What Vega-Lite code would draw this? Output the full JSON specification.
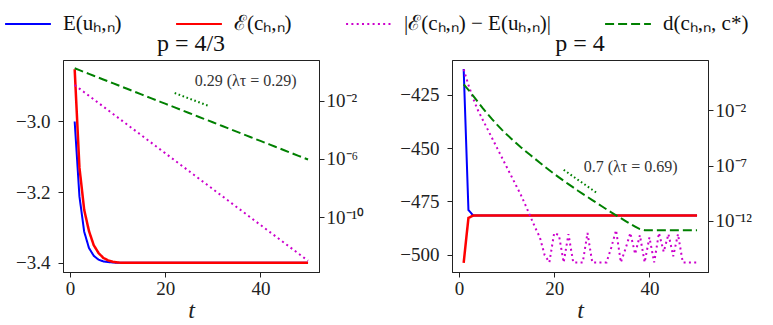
{
  "$schema": "https://vega.github.io/schema/vega-lite/v6.json",
  "padding": {"left": 4, "top": 0, "right": 2, "bottom": 2},
  "background": "white",
  "config": {
    "font": "Liberation Serif",
    "view": {"stroke": "#222", "strokeWidth": 1},
    "axis": {"grid": false, "domainColor": "#222", "tickColor": "#222", "labelColor": "#222", "labelFontSize": 19, "labelFont": "Liberation Serif", "tickSize": 5, "titleFont": "Liberation Serif", "titleFontWeight": "normal", "titleFontSize": 24, "titleFontStyle": "italic", "titleColor": "#222", "labelFlush": false},
    "legend": {"direction": "horizontal", "symbolType": "stroke", "symbolSize": 2100, "symbolStrokeWidth": 2, "labelFont": "Liberation Serif", "labelFontSize": 21, "labelColor": "#111", "columnPadding": 50, "labelOffset": 11, "padding": 0, "labelLimit": 400},
    "title": {"font": "Liberation Serif", "fontSize": 24, "fontWeight": "normal", "color": "#111", "offset": 4}
  },
  "datasets": {
    "p43": [
      {"t": 1, "E1": -3.0, "E2": -2.852, "diff": 0.1202, "dist": 1.698},
      {"t": 2, "E1": -3.212, "E2": -3.13, "diff": 0.06817, "dist": 1.265},
      {"t": 3, "E1": -3.312, "E2": -3.25, "diff": 0.03864, "dist": 0.9419},
      {"t": 4, "E1": -3.358, "E2": -3.31, "diff": 0.0219, "dist": 0.7015},
      {"t": 5, "E1": -3.38, "E2": -3.35, "diff": 0.01242, "dist": 0.5224},
      {"t": 6, "E1": -3.391, "E2": -3.372, "diff": 0.007039, "dist": 0.389},
      {"t": 7, "E1": -3.396, "E2": -3.386, "diff": 0.00399, "dist": 0.2897},
      {"t": 8, "E1": -3.398, "E2": -3.393, "diff": 0.002262, "dist": 0.2158},
      {"t": 9, "E1": -3.399, "E2": -3.397, "diff": 0.001282, "dist": 0.1607},
      {"t": 10, "E1": -3.4, "E2": -3.399, "diff": 7.27e-4, "dist": 0.1197},
      {"t": 11, "E1": -3.4, "E2": -3.4, "diff": 4.12e-4, "dist": 0.08913},
      {"t": 12, "E1": -3.4, "E2": -3.4, "diff": 2.336e-4, "dist": 0.06637},
      {"t": 13, "E1": -3.4, "E2": -3.4, "diff": 1.324e-4, "dist": 0.04943},
      {"t": 14, "E1": -3.4, "E2": -3.4, "diff": 7.51e-5, "dist": 0.03681},
      {"t": 15, "E1": -3.4, "E2": -3.4, "diff": 4.26e-5, "dist": 0.02742},
      {"t": 16, "E1": -3.4, "E2": -3.4, "diff": 2.413e-5, "dist": 0.02042},
      {"t": 17, "E1": -3.4, "E2": -3.4, "diff": 1.368e-5, "dist": 0.01521},
      {"t": 18, "E1": -3.4, "E2": -3.4, "diff": 7.75e-6, "dist": 0.01132},
      {"t": 19, "E1": -3.4, "E2": -3.4, "diff": 4.4e-6, "dist": 0.008433},
      {"t": 20, "E1": -3.4, "E2": -3.4, "diff": 2.492e-6, "dist": 0.006281},
      {"t": 21, "E1": -3.4, "E2": -3.4, "diff": 1.413e-6, "dist": 0.004677},
      {"t": 22, "E1": -3.4, "E2": -3.4, "diff": 8.01e-7, "dist": 0.003483},
      {"t": 23, "E1": -3.4, "E2": -3.4, "diff": 4.54e-7, "dist": 0.002594},
      {"t": 24, "E1": -3.4, "E2": -3.4, "diff": 2.573e-7, "dist": 0.001932},
      {"t": 25, "E1": -3.4, "E2": -3.4, "diff": 1.459e-7, "dist": 0.001439},
      {"t": 26, "E1": -3.4, "E2": -3.4, "diff": 8.27e-8, "dist": 0.001072},
      {"t": 27, "E1": -3.4, "E2": -3.4, "diff": 4.69e-8, "dist": 7.98e-4},
      {"t": 28, "E1": -3.4, "E2": -3.4, "diff": 2.657e-8, "dist": 5.94e-4},
      {"t": 29, "E1": -3.4, "E2": -3.4, "diff": 1.507e-8, "dist": 4.43e-4},
      {"t": 30, "E1": -3.4, "E2": -3.4, "diff": 8.54e-9, "dist": 3.3e-4},
      {"t": 31, "E1": -3.4, "E2": -3.4, "diff": 4.84e-9, "dist": 2.455e-4},
      {"t": 32, "E1": -3.4, "E2": -3.4, "diff": 2.745e-9, "dist": 1.828e-4},
      {"t": 33, "E1": -3.4, "E2": -3.4, "diff": 1.556e-9, "dist": 1.361e-4},
      {"t": 34, "E1": -3.4, "E2": -3.4, "diff": 8.82e-10, "dist": 1.014e-4},
      {"t": 35, "E1": -3.4, "E2": -3.4, "diff": 5.0e-10, "dist": 7.55e-5},
      {"t": 36, "E1": -3.4, "E2": -3.4, "diff": 2.835e-10, "dist": 5.62e-5},
      {"t": 37, "E1": -3.4, "E2": -3.4, "diff": 1.607e-10, "dist": 4.19e-5},
      {"t": 38, "E1": -3.4, "E2": -3.4, "diff": 9.11e-11, "dist": 3.12e-5},
      {"t": 39, "E1": -3.4, "E2": -3.4, "diff": 5.16e-11, "dist": 2.32e-5},
      {"t": 40, "E1": -3.4, "E2": -3.4, "diff": 2.927e-11, "dist": 1.73e-5},
      {"t": 41, "E1": -3.4, "E2": -3.4, "diff": 1.66e-11, "dist": 1.288e-5},
      {"t": 42, "E1": -3.4, "E2": -3.4, "diff": 9.41e-12, "dist": 9.59e-6},
      {"t": 43, "E1": -3.4, "E2": -3.4, "diff": 5.33e-12, "dist": 7.14e-6},
      {"t": 44, "E1": -3.4, "E2": -3.4, "diff": 3.023e-12, "dist": 5.32e-6},
      {"t": 45, "E1": -3.4, "E2": -3.4, "diff": 1.714e-12, "dist": 3.96e-6},
      {"t": 46, "E1": -3.4, "E2": -3.4, "diff": 9.72e-13, "dist": 2.95e-6},
      {"t": 47, "E1": -3.4, "E2": -3.4, "diff": 5.51e-13, "dist": 2.2e-6},
      {"t": 48, "E1": -3.4, "E2": -3.4, "diff": 3.123e-13, "dist": 1.64e-6},
      {"t": 49, "E1": -3.4, "E2": -3.4, "diff": 1.77e-13, "dist": 1.22e-6},
      {"t": 50, "E1": -3.4, "E2": -3.4, "diff": 1.003e-13, "dist": 9.08e-7}
    ],
    "p4": [
      {"t": 1, "E1": -413.0, "E2": -503.7, "diff": 50.1, "dist": 2.239},
      {"t": 2, "E1": -479.0, "E2": -482.7, "diff": 1.995, "dist": 0.7079},
      {"t": 3, "E1": -481.6, "E2": -481.6, "diff": 0.1122, "dist": 0.1995},
      {"t": 4, "E1": -481.6, "E2": -481.6, "diff": 0.01, "dist": 0.05623},
      {"t": 5, "E1": -481.6, "E2": -481.6, "diff": 1.413e-3, "dist": 0.01585},
      {"t": 6, "E1": -481.6, "E2": -481.6, "diff": 1.995e-4, "dist": 4.786e-3},
      {"t": 7, "E1": -481.6, "E2": -481.6, "diff": 2.818e-5, "dist": 1.514e-3},
      {"t": 8, "E1": -481.6, "E2": -481.6, "diff": 3.981e-6, "dist": 5.012e-4},
      {"t": 9, "E1": -481.6, "E2": -481.6, "diff": 5.623e-7, "dist": 1.778e-4},
      {"t": 10, "E1": -481.6, "E2": -481.6, "diff": 7.943e-8, "dist": 6.761e-5},
      {"t": 11, "E1": -481.6, "E2": -481.6, "diff": 1.122e-8, "dist": 2.692e-5},
      {"t": 12, "E1": -481.6, "E2": -481.6, "diff": 1.585e-9, "dist": 1.096e-5},
      {"t": 13, "E1": -481.6, "E2": -481.6, "diff": 2.239e-10, "dist": 4.571e-6},
      {"t": 14, "E1": -481.6, "E2": -481.6, "diff": 2.512e-11, "dist": 1.995e-6},
      {"t": 15, "E1": -481.6, "E2": -481.6, "diff": 2.512e-12, "dist": 8.913e-7},
      {"t": 16, "E1": -481.6, "E2": -481.6, "diff": 2.512e-13, "dist": 3.981e-7},
      {"t": 17, "E1": -481.6, "E2": -481.6, "diff": 3.162e-14, "dist": 1.778e-7},
      {"t": 18, "E1": -481.6, "E2": -481.6, "diff": 7.943e-16, "dist": 7.943e-8},
      {"t": 19, "E1": -481.6, "E2": -481.6, "diff": 1.738e-16, "dist": 3.715e-8},
      {"t": 20, "E1": -481.6, "E2": -481.6, "diff": 7.943e-14, "dist": 1.778e-8},
      {"t": 21, "E1": -481.6, "E2": -481.6, "diff": 5.012e-14, "dist": 8.511e-9},
      {"t": 22, "E1": -481.6, "E2": -481.6, "diff": 1.738e-16, "dist": 4.169e-9},
      {"t": 23, "E1": -481.6, "E2": -481.6, "diff": 6.31e-14, "dist": 2.089e-9},
      {"t": 24, "E1": -481.6, "E2": -481.6, "diff": 1.738e-16, "dist": 1.047e-9},
      {"t": 25, "E1": -481.6, "E2": -481.6, "diff": 1.738e-16, "dist": 5.248e-10},
      {"t": 26, "E1": -481.6, "E2": -481.6, "diff": 1.738e-16, "dist": 2.754e-10},
      {"t": 27, "E1": -481.6, "E2": -481.6, "diff": 7.943e-14, "dist": 1.445e-10},
      {"t": 28, "E1": -481.6, "E2": -481.6, "diff": 1.738e-16, "dist": 7.586e-11},
      {"t": 29, "E1": -481.6, "E2": -481.6, "diff": 1.738e-16, "dist": 3.981e-11},
      {"t": 30, "E1": -481.6, "E2": -481.6, "diff": 1.738e-16, "dist": 2.089e-11},
      {"t": 31, "E1": -481.6, "E2": -481.6, "diff": 1.738e-16, "dist": 1.096e-11},
      {"t": 32, "E1": -481.6, "E2": -481.6, "diff": 3.981e-15, "dist": 5.754e-12},
      {"t": 33, "E1": -481.6, "E2": -481.6, "diff": 1.413e-13, "dist": 3.162e-12},
      {"t": 34, "E1": -481.6, "E2": -481.6, "diff": 1.738e-16, "dist": 1.738e-12},
      {"t": 35, "E1": -481.6, "E2": -481.6, "diff": 3.162e-15, "dist": 9.55e-13},
      {"t": 36, "E1": -481.6, "E2": -481.6, "diff": 7.943e-14, "dist": 5.248e-13},
      {"t": 37, "E1": -481.6, "E2": -481.6, "diff": 1.0e-15, "dist": 3.02e-13},
      {"t": 38, "E1": -481.6, "E2": -481.6, "diff": 5.012e-14, "dist": 1.778e-13},
      {"t": 39, "E1": -481.6, "E2": -481.6, "diff": 1.738e-16, "dist": 1.413e-13},
      {"t": 40, "E1": -481.6, "E2": -481.6, "diff": 3.162e-14, "dist": 1.413e-13},
      {"t": 41, "E1": -481.6, "E2": -481.6, "diff": 1.738e-16, "dist": 1.413e-13},
      {"t": 42, "E1": -481.6, "E2": -481.6, "diff": 7.943e-14, "dist": 1.413e-13},
      {"t": 43, "E1": -481.6, "E2": -481.6, "diff": 1.585e-15, "dist": 1.413e-13},
      {"t": 44, "E1": -481.6, "E2": -481.6, "diff": 6.31e-14, "dist": 1.413e-13},
      {"t": 45, "E1": -481.6, "E2": -481.6, "diff": 6.31e-16, "dist": 1.413e-13},
      {"t": 46, "E1": -481.6, "E2": -481.6, "diff": 6.31e-14, "dist": 1.413e-13},
      {"t": 47, "E1": -481.6, "E2": -481.6, "diff": 1.738e-16, "dist": 1.413e-13},
      {"t": 48, "E1": -481.6, "E2": -481.6, "diff": 1.738e-16, "dist": 1.413e-13},
      {"t": 49, "E1": -481.6, "E2": -481.6, "diff": 1.738e-16, "dist": 1.413e-13},
      {"t": 50, "E1": -481.6, "E2": -481.6, "diff": 1.738e-16, "dist": 1.413e-13}
    ],
    "ann43": [{"t": 22, "lv": 0.0339}, {"t": 29, "lv": 0.00457}],
    "ann4": [{"t": 22, "lv": 4.07e-8}, {"t": 29, "lv": 3.24e-10}],
    "lab43": [{"t": 26.2, "lv": 0.24, "label": "0.29 (λτ = 0.29)"}],
    "lab4": [{"t": 26.2, "lv": 7.08e-8, "label": "0.7 (λτ = 0.69)"}]
  },
  "spacing": 34,
  "hconcat": [
    {
      "width": 256, "height": 212,
      "title": "p = 4/3",
      "encoding": {
        "x": {"field": "t", "type": "quantitative", "scale": {"domain": [-1.45, 52.3], "nice": false, "zero": false}, "axis": {"values": [0, 20, 40], "title": "t", "labelPadding": 2, "titlePadding": 0}}
      },
      "layer": [
        {
          "encoding": {
            "y": {"field": "val", "type": "quantitative", "scale": {"domain": [-3.426, -2.826], "nice": false, "zero": false}, "axis": {"orient": "left", "values": [-3.0, -3.2, -3.4], "format": ".1f", "labelExpr": "replace(datum.label, '-', '−')", "title": null, "labelPadding": 8}},
            "color": {"field": "series", "type": "nominal", "scale": {"domain": ["E1", "E2", "diff", "dist"], "range": ["#0000ff", "#ff0000", "#cc00cc", "#008000"]}, "legend": {"title": null, "orient": "none", "legendX": -59, "legendY": -60, "labelExpr": "datum.label == 'E1' ? 'E(uₕ,ₙ)' : datum.label == 'E2' ? 'ℰ(cₕ,ₙ)' : datum.label == 'diff' ? '|ℰ(cₕ,ₙ) − E(uₕ,ₙ)|' : 'd(cₕ,ₙ, c*)'"}},
            "strokeDash": {"field": "series", "type": "nominal", "scale": {"domain": ["E1", "E2", "diff", "dist"], "range": [[1, 0], [1, 0], [2, 3.3], [9, 4]]}, "legend": {"title": null, "orient": "none", "legendX": -59, "legendY": -60, "labelExpr": "datum.label == 'E1' ? 'E(uₕ,ₙ)' : datum.label == 'E2' ? 'ℰ(cₕ,ₙ)' : datum.label == 'diff' ? '|ℰ(cₕ,ₙ) − E(uₕ,ₙ)|' : 'd(cₕ,ₙ, c*)'"}}
          },
          "layer": [
            {
              "data": {"name": "p43"},
              "transform": [{"fold": ["E1"], "as": ["series", "val"]}],
              "mark": {"type": "line", "strokeWidth": 2}
            },
            {
              "data": {"name": "p43"},
              "transform": [{"fold": ["E2"], "as": ["series", "val"]}],
              "mark": {"type": "line", "strokeWidth": 2.5}
            }
          ]
        },
        {
          "encoding": {
            "y": {"field": "lv", "type": "quantitative", "scale": {"type": "log", "domain": [1.698e-14, 6.31], "nice": false}, "axis": {"orient": "right", "values": [0.01, 1e-6, 1e-10], "labelExpr": "datum.value > 1e-4 ? '10⁻²' : datum.value > 1e-8 ? '10⁻⁶' : '10⁻¹⁰'", "title": null, "labelPadding": 2}}
          },
          "layer": [
            {
              "data": {"name": "p43"},
              "transform": [{"fold": ["diff", "dist"], "as": ["series", "lv"]}],
              "mark": {"type": "line", "strokeWidth": 2},
              "encoding": {
                "color": {"field": "series", "type": "nominal"},
                "strokeDash": {"field": "series", "type": "nominal"}
              }
            },
            {
              "data": {"name": "ann43"},
              "mark": {"type": "line", "strokeWidth": 2, "color": "#008000", "strokeDash": [1.6, 2.6]}
            },
            {
              "data": {"name": "lab43"},
              "mark": {"type": "text", "align": "left", "baseline": "middle", "fontSize": 16, "font": "Liberation Serif", "color": "#333"},
              "encoding": {"text": {"field": "label"}}
            }
          ]
        }
      ],
      "resolve": {"scale": {"y": "independent"}}
    },
    {
      "width": 256, "height": 212,
      "title": "p = 4",
      "encoding": {
        "x": {"field": "t", "type": "quantitative", "scale": {"domain": [-1.45, 52.3], "nice": false, "zero": false}, "axis": {"values": [0, 20, 40], "title": "t", "labelPadding": 2, "titlePadding": 0}}
      },
      "layer": [
        {
          "encoding": {
            "y": {"field": "val", "type": "quantitative", "scale": {"domain": [-508, -408.8], "nice": false, "zero": false}, "axis": {"orient": "left", "values": [-425, -450, -475, -500], "labelExpr": "replace(datum.label, '-', '−')", "title": null, "labelPadding": 8}},
            "color": {"field": "series", "type": "nominal"},
            "strokeDash": {"field": "series", "type": "nominal"}
          },
          "layer": [
            {
              "data": {"name": "p4"},
              "transform": [{"fold": ["E1"], "as": ["series", "val"]}],
              "mark": {"type": "line", "strokeWidth": 2}
            },
            {
              "data": {"name": "p4"},
              "transform": [{"fold": ["E2"], "as": ["series", "val"]}],
              "mark": {"type": "line", "strokeWidth": 2.5}
            }
          ]
        },
        {
          "encoding": {
            "y": {"field": "lv", "type": "quantitative", "scale": {"type": "log", "domain": [2.34e-17, 354.8], "nice": false}, "axis": {"orient": "right", "values": [0.01, 1e-7, 1e-12], "labelExpr": "datum.value > 1e-4 ? '10⁻²' : datum.value > 1e-9 ? '10⁻⁷' : '10⁻¹²'", "title": null, "labelPadding": 2}}
          },
          "layer": [
            {
              "data": {"name": "p4"},
              "transform": [{"fold": ["diff", "dist"], "as": ["series", "lv"]}],
              "mark": {"type": "line", "strokeWidth": 2},
              "encoding": {
                "color": {"field": "series", "type": "nominal"},
                "strokeDash": {"field": "series", "type": "nominal"}
              }
            },
            {
              "data": {"name": "ann4"},
              "mark": {"type": "line", "strokeWidth": 2, "color": "#008000", "strokeDash": [1.6, 2.6]}
            },
            {
              "data": {"name": "lab4"},
              "mark": {"type": "text", "align": "left", "baseline": "middle", "fontSize": 16, "font": "Liberation Serif", "color": "#333"},
              "encoding": {"text": {"field": "label"}}
            }
          ]
        }
      ],
      "resolve": {"scale": {"y": "independent"}}
    }
  ]
}
